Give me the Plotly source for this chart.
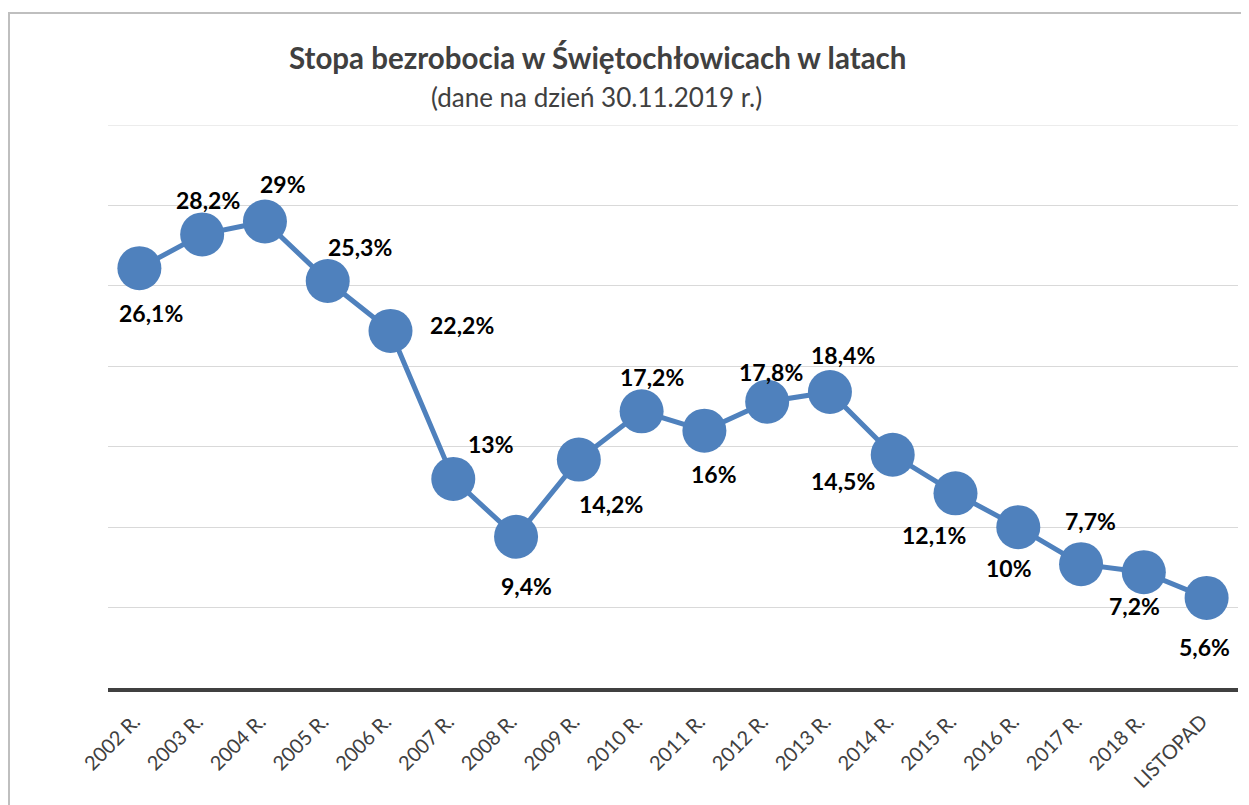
import plotly.graph_objects as go

years = ["2002 R.", "2003 R.", "2004 R.", "2005 R.", "2006 R.", "2007 R.", "2008 R.",
         "2009 R.", "2010 R.", "2011 R.", "2012 R.", "2013 R.", "2014 R.", "2015 R.",
         "2016 R.", "2017 R.", "2018 R.", "LISTOPAD"]
rates = [26.1, 28.2, 29.0, 25.3, 22.2, 13.0, 9.4, 14.2, 17.2, 16.0, 17.8, 18.4,
         14.5, 12.1, 10.0, 7.7, 7.2, 5.6]

# label offsets in pixels (dx right, dy up) relative to the marker
label_dx = [12, 6, 18, 32, 71, 38, 10, 32, 10, 10, 4, 13, -50, -22, -9, 9, -9, -2]
label_dy = [-45, 34, 38, 34, 6, 35, -49, -44, 34, -43, 30, 37, -26, -42, -41, 43, -34, -49]

def fmt(v):
    return ("%g" % v).replace(".", ",") + "%"

FONT = "Lato"
BLUE = "#4F81BD"

# page has an 8px body margin; plot area should sit at x 108..1238, y 125..688
OFF = 8
PL, PR, PT, PB = 108, 1238, 125, 688
W, H = 1249 - OFF, 805 - OFF
PW, PH = PR - PL, PB - PT

fig = go.Figure()
fig.add_trace(go.Scatter(
    x=years, y=rates, mode="lines+markers",
    line=dict(color=BLUE, width=5),
    marker=dict(color=BLUE, size=44),
    hoverinfo="skip", showlegend=False,
))

for x, y, dx, dy in zip(years, rates, label_dx, label_dy):
    fig.add_annotation(x=x, y=y, text="<b>" + fmt(y) + "</b>", showarrow=False,
                       xshift=dx, yshift=dy,
                       font=dict(family=FONT, size=23, color="#000000"))

fig.add_annotation(xref="paper", yref="paper", x=(597.5 - PL) / PW, y=1 + (PT - 58) / PH,
                   text="<b>Stopa bezrobocia w Świętochłowicach w latach</b>", showarrow=False,
                   font=dict(family=FONT, size=29.5, color="#404040"), xanchor="center", yanchor="middle")
fig.add_annotation(xref="paper", yref="paper", x=(596.5 - PL) / PW, y=1 + (PT - 97) / PH,
                   text="(dane na dzień 30.11.2019 r.)", showarrow=False,
                   font=dict(family=FONT, size=26, color="#404040"), xanchor="center", yanchor="middle")

# top gridline at 35
fig.add_shape(type="line", xref="paper", yref="y", x0=0, x1=1, y0=35, y1=35,
              line=dict(color="#D9D9D9", width=1), layer="below")

# outer chart frame
fig.add_shape(type="rect", xref="paper", yref="paper",
              x0=-(PL - 9) / PW, x1=1 + 40 / PW,
              y0=-(805 - PB + 40) / PH, y1=1 + (PT - 13) / PH,
              line=dict(color="#BFBFBF", width=2), fillcolor="rgba(0,0,0,0)", layer="below")

fig.update_layout(
    width=W, height=H,
    margin=dict(l=PL - OFF, r=W + OFF - PR, t=PT - OFF, b=H + OFF - PB, pad=0),
    paper_bgcolor="white", plot_bgcolor="white",
    font=dict(family=FONT),
    xaxis=dict(type="category", range=[-0.5, 17.5], showgrid=False,
               showline=True, linecolor="#404040", linewidth=4,
               tickangle=-45, tickfont=dict(family=FONT, size=20, color="#404040"),
               ticks="", ticklabelstandoff=10, ticklabelshift=-5, fixedrange=True),
    yaxis=dict(range=[0, 35], dtick=5, showgrid=True, gridcolor="#D9D9D9", gridwidth=1,
               showticklabels=False, zeroline=False, ticks="", fixedrange=True),
)

fig.write_html("out.html")
